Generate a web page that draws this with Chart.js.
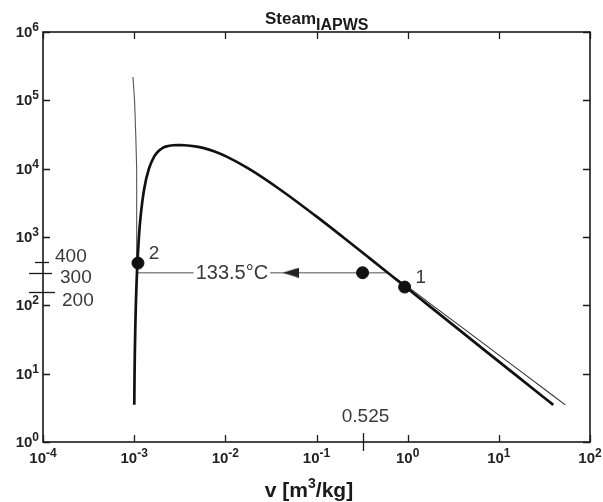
<!DOCTYPE html>
<html>
<head>
<meta charset="utf-8">
<script src="https://cdn.jsdelivr.net/npm/chart.js@4"></script>
<style>
  html, body { margin: 0; padding: 0; background: #fff; }
  #wrap { width: 603px; height: 502px; }
</style>
</head>
<body>
<div id="wrap"><canvas id="chart" width="603" height="502"></canvas></div>
<script>
// saturation dome (p in kPa, v in m3/kg)
const satP = [3.5, 5, 10, 20, 50, 100, 200, 300, 500, 1000, 2000, 5000, 10000, 15000, 18000, 20000, 21000, 22000, 22064];
const satLiquidV = [0.001003, 0.001005, 0.00101, 0.001017, 0.00103, 0.001043, 0.001061, 0.001073, 0.001093, 0.001127, 0.001177, 0.001286, 0.001452, 0.001657, 0.00184, 0.00204, 0.00221, 0.00266, 0.003106];
const satVaporV = [39.5, 28.19, 14.67, 7.648, 3.24, 1.694, 0.8857, 0.6058, 0.3749, 0.1944, 0.09963, 0.03944, 0.01803, 0.01034, 0.0075, 0.005834, 0.00488, 0.00357, 0.003106];

// isotherm 133.5 C
const isoLiqP = [300, 1000, 3000, 10000, 30000, 100000, 220000];
const isoLiqV = [0.001073, 0.001071, 0.001067, 0.001058, 0.001042, 0.00101, 0.00097];
const isoVapP = [300, 200, 100, 50, 20, 10, 5, 3.5];
const isoVapV = [0.6058, 0.935, 1.87, 3.75, 9.38, 18.77, 37.5, 53.6];
const isoHorizV = [0.001073, 0.6058];
const isoHorizP = [300, 300];
const isoLabel = '133.5°C';
const isoLabelV = 0.0118;

// states
const stateV = [0.927, 0.0011, 0.32];
const stateP = [185, 415, 300];
const stateNames = ['1', '2', ''];
const arrowV = [0.052];
const arrowP = [300];

// axis
const xTicks = [1e-4, 1e-3, 1e-2, 1e-1, 1e0, 1e1, 1e2];
const yTicks = [1e0, 1e1, 1e2, 1e3, 1e4, 1e5, 1e6];
const pressMarkP = [430, 297, 157];
const pressMarkText = ['400', '300', '200'];
const volMarkText = '0.525';

const FONT = '"Liberation Sans", Arial, sans-serif';

// narrow arrow head pointing left
const arrowImg = document.createElement('canvas');
arrowImg.width = 16;
arrowImg.height = 10;
(function () {
  const c = arrowImg.getContext('2d');
  c.fillStyle = '#222';
  c.beginPath();
  c.moveTo(0, 5);
  c.lineTo(16, 0);
  c.lineTo(16, 10);
  c.closePath();
  c.fill();
})();

function pts(xs, ys) {
  return xs.map((x, i) => ({x: x, y: ys[i]}));
}

// 10 with raised exponent
function drawPow(ctx, v, x, y, align) {
  const e = String(Math.round(Math.log10(v)));
  ctx.font = 'bold 15px ' + FONT;
  const wb = ctx.measureText('10').width;
  ctx.font = 'bold 12px ' + FONT;
  const we = ctx.measureText(e).width;
  let x0 = x - (wb + we) / 2;
  if (align === 'right') x0 = x - wb - we;
  ctx.textAlign = 'left';
  ctx.textBaseline = 'alphabetic';
  ctx.font = 'bold 15px ' + FONT;
  ctx.fillText('10', x0, y);
  ctx.font = 'bold 12px ' + FONT;
  ctx.fillText(e, x0 + wb, y - 6);
}

const annot = {
  id: 'annot',
  afterDatasetsDraw(chart) {
    const ctx = chart.ctx;
    const a = chart.chartArea;
    const xs = chart.scales.x;
    const ys = chart.scales.y;
    ctx.save();

    // label on horizontal line
    const lx = xs.getPixelForValue(isoLabelV);
    const ly = ys.getPixelForValue(300);
    ctx.font = '20px ' + FONT;
    const w = ctx.measureText(isoLabel).width;
    ctx.fillStyle = '#fff';
    ctx.fillRect(lx - w / 2 - 2, ly - 10, w + 4, 20);
    ctx.fillStyle = '#3a3a3a';
    ctx.textAlign = 'center';
    ctx.textBaseline = 'middle';
    ctx.fillText(isoLabel, lx, ly + 1);

    // state names
    ctx.font = '19px ' + FONT;
    ctx.textAlign = 'center';
    stateNames.forEach((n, i) => {
      if (!n) return;
      const px = xs.getPixelForValue(stateV[i]);
      const py = ys.getPixelForValue(stateP[i]);
      ctx.fillText(n, px + 16, py - 9);
    });

    // frame
    ctx.strokeStyle = '#1a1a1a';
    ctx.lineWidth = 1.6;
    ctx.strokeRect(a.left, a.top, a.right - a.left, a.bottom - a.top);

    // inward ticks
    ctx.lineWidth = 1.3;
    ctx.beginPath();
    xTicks.forEach(v => {
      const px = Math.round(xs.getPixelForValue(v)) + 0.5;
      ctx.moveTo(px, a.bottom); ctx.lineTo(px, a.bottom - 7);
      ctx.moveTo(px, a.top); ctx.lineTo(px, a.top + 7);
    });
    yTicks.forEach(v => {
      const py = Math.round(ys.getPixelForValue(v)) + 0.5;
      ctx.moveTo(a.left, py); ctx.lineTo(a.left + 7, py);
      ctx.moveTo(a.right, py); ctx.lineTo(a.right - 7, py);
    });
    ctx.stroke();

    // tick labels
    ctx.fillStyle = '#222';
    xTicks.forEach(v => drawPow(ctx, v, xs.getPixelForValue(v), a.bottom + 21, 'center'));
    yTicks.forEach(v => drawPow(ctx, v, a.left - 4, ys.getPixelForValue(v) + 5, 'right'));

    // marked volume on x axis
    const mx = Math.round(xs.getPixelForValue(stateV[2])) + 0.5;
    ctx.beginPath();
    ctx.moveTo(mx, a.bottom - 9); ctx.lineTo(mx, a.bottom + 9);
    ctx.stroke();
    ctx.fillStyle = '#3a3a3a';
    ctx.font = '19px ' + FONT;
    ctx.textAlign = 'center';
    ctx.textBaseline = 'middle';
    ctx.fillText(volMarkText, mx + 2, a.bottom - 25);

    // marked pressures on y axis
    const tickLen = [[8, 6], [14, 9], [14, 12]];
    const textPos = [[12, -6], [17, 4], [19, 8]];
    pressMarkP.forEach((p, i) => {
      const py = Math.round(ys.getPixelForValue(p)) + 0.5;
      ctx.beginPath();
      ctx.moveTo(a.left - tickLen[i][0], py); ctx.lineTo(a.left + tickLen[i][1], py);
      ctx.stroke();
      ctx.textAlign = 'left';
      ctx.fillText(pressMarkText[i], a.left + textPos[i][0], py + textPos[i][1]);
    });

    // title with subscript
    ctx.fillStyle = '#1a1a1a';
    ctx.textAlign = 'left';
    ctx.textBaseline = 'alphabetic';
    ctx.font = 'bold 17px ' + FONT;
    const w1 = ctx.measureText('Steam').width;
    ctx.fillText('Steam', 265, 24);
    ctx.font = 'bold 16px ' + FONT;
    ctx.fillText('IAPWS', 265 + w1, 30);

    // x axis title v [m^3/kg]
    ctx.font = 'bold 21px ' + FONT;
    const p1 = 'v [m', p3 = '/kg]';
    const wa = ctx.measureText(p1).width;
    const wc = ctx.measureText(p3).width;
    ctx.font = 'bold 14px ' + FONT;
    const wsup = ctx.measureText('3').width;
    const tx = 309 - (wa + wsup + wc) / 2;
    ctx.font = 'bold 21px ' + FONT;
    ctx.fillText(p1, tx, 497);
    ctx.fillText(p3, tx + wa + wsup, 497);
    ctx.font = 'bold 14px ' + FONT;
    ctx.fillText('3', tx + wa, 488);

    ctx.restore();
  }
};

new Chart(document.getElementById('chart'), {
  type: 'scatter',
  data: {
    datasets: [
      {
        data: pts(stateV, stateP),
        pointRadius: 6,
        pointBackgroundColor: '#111',
        pointBorderColor: '#111',
        showLine: false,
        order: 0
      },
      {
        data: pts(arrowV, arrowP),
        pointStyle: arrowImg,
        pointRadius: 8,
        showLine: false,
        order: 1
      },
      {
        data: pts(satLiquidV, satP),
        showLine: true,
        borderColor: '#111',
        borderWidth: 2.7,
        pointRadius: 0,
        cubicInterpolationMode: 'monotone',
        order: 2
      },
      {
        data: pts(satVaporV, satP),
        showLine: true,
        borderColor: '#111',
        borderWidth: 2.7,
        pointRadius: 0,
        cubicInterpolationMode: 'monotone',
        order: 2
      },
      {
        data: pts(isoLiqV, isoLiqP),
        showLine: true,
        borderColor: '#555',
        borderWidth: 1.1,
        pointRadius: 0,
        order: 3
      },
      {
        data: pts(isoVapV, isoVapP),
        showLine: true,
        borderColor: '#333',
        borderWidth: 1.1,
        pointRadius: 0,
        order: 3
      },
      {
        data: pts(isoHorizV, isoHorizP),
        showLine: true,
        borderColor: '#8a8a8a',
        borderWidth: 1.6,
        pointRadius: 0,
        order: 3
      }
    ]
  },
  options: {
    responsive: false,
    animation: false,
    layout: { padding: { top: 32, right: 13, left: 0, bottom: 0 } },
    plugins: { legend: { display: false }, tooltip: { enabled: false } },
    scales: {
      x: {
        type: 'logarithmic',
        min: 1e-4,
        max: 1e2,
        grid: { display: false, drawTicks: false },
        border: { display: false },
        afterBuildTicks: s => { s.ticks = xTicks.map(v => ({value: v})); },
        afterFit: s => { s.height = 60; },
        ticks: { display: false }
      },
      y: {
        type: 'logarithmic',
        min: 1,
        max: 1e6,
        grid: { display: false, drawTicks: false },
        border: { display: false },
        afterBuildTicks: s => { s.ticks = yTicks.map(v => ({value: v})); },
        afterFit: s => { s.width = 43; },
        ticks: { display: false }
      }
    }
  },
  plugins: [annot]
});
</script>
</body>
</html>
